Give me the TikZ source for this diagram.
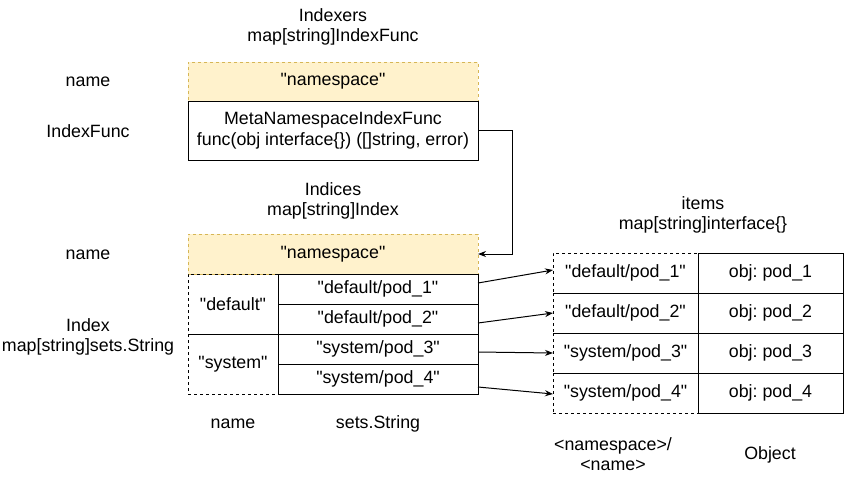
\documentclass[tikz,border=0pt]{standalone}
\usepackage{fontspec}
\setmainfont{Liberation Sans}[Ligatures=TeXOff]
\usetikzlibrary{arrows.meta}
\definecolor{ylwfill}{HTML}{FFF2CC}
\definecolor{ylwline}{HTML}{D6B656}
\frenchspacing
\begin{document}
\begin{tikzpicture}[x=1pt,y=-1pt,
  every node/.style={font=\fontsize{17.8}{20.5}\selectfont, align=center, inner sep=0pt, outer sep=0pt},
  box/.style={draw, line width=1pt, anchor=north west, minimum width=#1},
  ylw/.style={draw=ylwline, fill=ylwfill, dash pattern=on 3pt off 3pt, line width=1pt, anchor=north west},
  dbox/.style={draw, dash pattern=on 3pt off 3pt, line width=1pt, anchor=north west},
  arr/.style={-{Stealth[length=8pt,width=6pt]}, line width=1pt}]
\useasboundingbox (0,0) rectangle (845,483);

% Indexers
\node (idxt) at (333,27) {Indexers\\map[string]IndexFunc};
\node (lname1) at (88,82) {name};
\node (lfunc) at (88,131) {IndexFunc};
\node[ylw, minimum width=290pt, minimum height=39pt] (ns1) at (188,62) {"namespace"};
\node[box=290pt, minimum height=59pt] (fn) at (188,101) {MetaNamespaceIndexFunc\\func(obj interface\{\}) ([]string, error)};

% Indices
\node (indt) at (333,201) {Indices\\map[string]Index};
\node (lname2) at (88,255) {name};
\node[ylw, minimum width=290pt, minimum height=40pt] (ns2) at (188,234) {"namespace"};
\node[dbox, minimum width=90pt, minimum height=60pt] (dflt) at (188,274) {"default"};
\node[dbox, minimum width=90pt, minimum height=60pt] (sys) at (188,334) {"system"};
\node[box=200pt, minimum height=30pt] (r1) at (278,274) {"default/pod\_1"};
\node[box=200pt, minimum height=30pt] (r2) at (278,304) {"default/pod\_2"};
\node[box=200pt, minimum height=30pt] (r3) at (278,334) {"system/pod\_3"};
\node[box=200pt, minimum height=30pt] (r4) at (278,364) {"system/pod\_4"};
\node (lindex) at (88,337) {Index\\map[string]sets.String};
\node (lname3) at (233,424) {name};
\node (lsets) at (378,424) {sets.String};

% items
\node (itt) at (703,215) {items\\map[string]interface\{\}};
\node[dbox, minimum width=145pt, minimum height=40pt] (k1) at (553,253) {"default/pod\_1"};
\node[dbox, minimum width=145pt, minimum height=40pt] (k2) at (553,293) {"default/pod\_2"};
\node[dbox, minimum width=145pt, minimum height=40pt] (k3) at (553,333) {"system/pod\_3"};
\node[dbox, minimum width=145pt, minimum height=40pt] (k4) at (553,373) {"system/pod\_4"};
\node[box=145pt, minimum height=40pt] (o1) at (698,253) {obj: pod\_1};
\node[box=145pt, minimum height=40pt] (o2) at (698,293) {obj: pod\_2};
\node[box=145pt, minimum height=40pt] (o3) at (698,333) {obj: pod\_3};
\node[box=145pt, minimum height=40pt] (o4) at (698,373) {obj: pod\_4};
\node (lkey) at (613,454) {<namespace>/\\<name>};
\node (lobj) at (770,455) {Object};

% connectors
\coordinate (bend) at (512,130);
\draw[arr] (fn.east |- bend) -- (bend) |- (ns2.east);
\draw[arr] ([yshift=6pt]r1.east) -- ([yshift=3pt]k1.west);
\draw[arr] ([yshift=-4pt]r2.east) -- ([yshift=0pt]k2.west);
\draw[arr] ([yshift=-3pt]r3.east) -- ([yshift=0pt]k3.west);
\draw[arr] ([yshift=-8pt]r4.east) -- ([yshift=-1pt]k4.west);
\end{tikzpicture}
\end{document}
